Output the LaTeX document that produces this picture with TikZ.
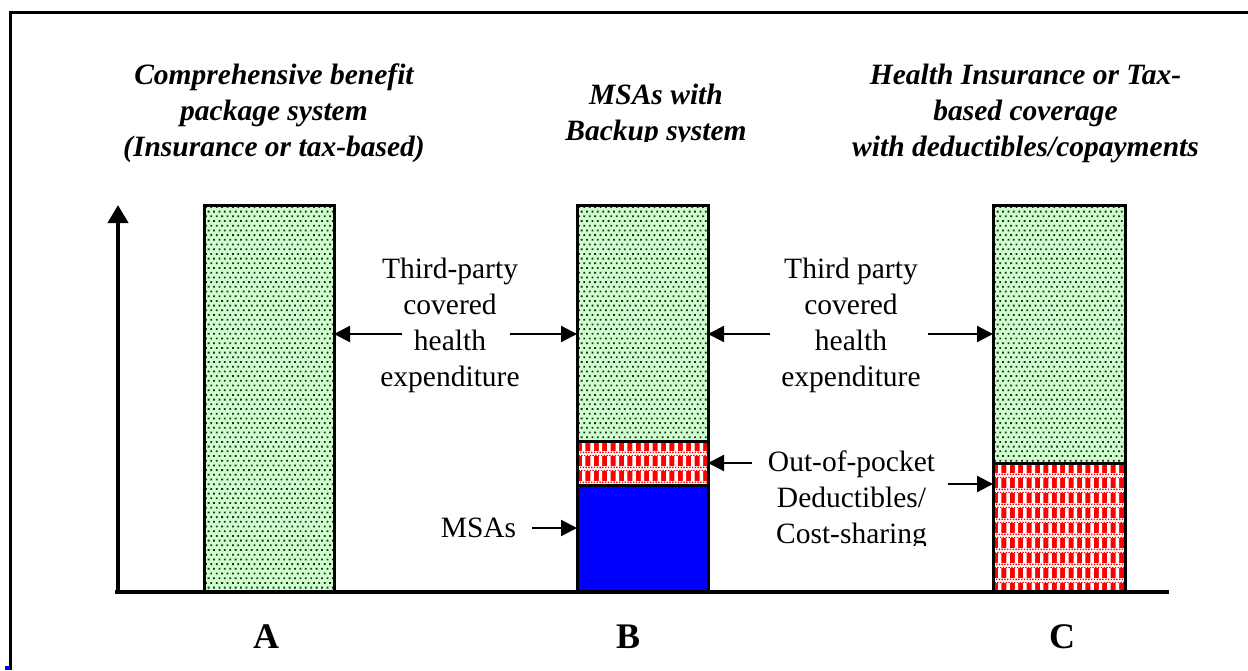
\documentclass[tikz,border=0pt]{standalone}
\usepackage{fontspec}
\setmainfont{Liberation Serif}
\usetikzlibrary{arrows.meta}
\definecolor{lightgreen}{HTML}{CCFFCC}
\definecolor{chkred}{HTML}{FF0000}
\definecolor{msablue}{HTML}{0000FF}

% dotted light-green texture inside rectangle (x1,y1)-(x2,y2)
\newcommand\greentex[4]{%
  \begin{scope}
    \clip (#1,#2) rectangle (#3,#4);
    \fill[lightgreen] (#1,#2) rectangle (#3,#4);
    \foreach \r in {0,...,83}{%
      \pgfmathsetmacro\yy{#2+1+\r*4.7}%
      \pgfmathsetmacro\xo{#1+1+mod(\r,2)*2.7}%
      \fill[black!85] \foreach \c in {0,...,25}{ (\xo+\c*5.4,\yy) rectangle ++(1.8,1.8) };
    }
  \end{scope}}

% red/white gingham texture inside rectangle (x1,y1)-(x2,y2)
\newcommand\redtex[4]{%
  \begin{scope}
    \clip (#1,#2) rectangle (#3,#4);
    \fill[chkred] (#1,#2) rectangle (#3,#4);
    \foreach \r in {0,...,9}{%
      \pgfmathsetmacro\yy{#2+\r*15}%
      \fill[white] \foreach \c in {0,...,16}{ (#1+5+\c*8.4,\yy) rectangle ++(3.4,10) };
      \fill[white] (#1,\yy+10) rectangle (#3,\yy+15);
      \foreach \j in {0,2}{%
        \pgfmathsetmacro\yj{\yy+10.6+\j*1.6}%
        \pgfmathsetmacro\xj{#1+\j*0.7}%
        \fill[chkred] \foreach \k in {0,...,47}{ (\xj+\k*2.8,\yj) rectangle ++(1.4,1.4) };
      }
    }
  \end{scope}}

\begin{document}
\begin{tikzpicture}[x=1pt,y=-1pt,
  seg/.style={draw=black, line width=3pt, inner sep=0pt, outer sep=0pt},
  blueseg/.style={seg, fill=msablue},
  conn/.style={line width=2.2pt, -{Triangle[length=16pt,width=16pt]}},
  lbl/.style={font=\fontsize{29.5}{36}\selectfont, align=center, inner sep=0pt},
  ttl/.style={font=\fontsize{29.5}{36}\selectfont\bfseries\itshape, align=center, inner sep=0pt},
  letter/.style={font=\fontsize{36}{40}\selectfont\bfseries, inner sep=0pt}]
\useasboundingbox (0,0) rectangle (1248,670);
\fill[white] (0,0) rectangle (1248,670);

% frame
\draw[line width=3pt] (10.5,670) -- (10.5,12.5) -- (1248,12.5);
\fill[msablue] (5,666) rectangle (10,670);

% titles
\node[ttl] (tA) at (274,113) {Comprehensive benefit\\package system\\(Insurance or tax-based)};
\begin{scope}
  \clip (540,60) rectangle (780,141);
  \node[ttl] (tB) at (656,115.5) {MSAs with\\Backup system};
\end{scope}
\node[ttl] (tC) at (1025.5,113) {Health Insurance or Tax-\\based coverage\\with deductibles/copayments};

% bar textures
\greentex{204}{205}{334}{592}
\greentex{577}{205}{708}{441}
\redtex{577}{441}{708}{485}
\greentex{993}{205}{1125}{463}
\redtex{993}{463}{1125}{592}

% bars (outlines)
\node[seg, minimum width=130, minimum height=387] (barA) at (269,398.5) {};
\node[seg, minimum width=131, minimum height=236] (barBg) at (642.5,323) {};
\node[seg, minimum width=131, minimum height=44] (barBr) at (642.5,463) {};
\node[blueseg, minimum width=131, minimum height=107] (barBb) at (642.5,538.5) {};
\node[seg, minimum width=132, minimum height=258] (barCg) at (1059,334) {};
\node[seg, minimum width=132, minimum height=129] (barCr) at (1059,527.5) {};

% axes
\coordinate (orig) at (118,592);
\coordinate (ytop) at (118,205);
\coordinate (xend) at (1169,592);
\coordinate (xstart) at (115,592);
\draw[line width=4pt, -{Triangle[length=18pt,width=20pt]}] (orig) -- (ytop);
\draw[line width=4pt] (xstart) -- (xend);

% labels
\node[lbl] (l1) at (450,325) {Third-party\\covered\\health\\expenditure};
\node[lbl] (l2) at (851,325) {Third party\\covered\\health\\expenditure};
\begin{scope}
  \clip (740,440) rectangle (960,545);
  \node[lbl] (l3) at (851.5,500) {Out-of-pocket\\Deductibles/\\Cost-sharing};
\end{scope}
\node[lbl] (l4) at (478.5,528) {MSAs};

% connector tails
\coordinate (a1) at (402,334);
\coordinate (a2) at (510,334);
\coordinate (a3) at (770,334);
\coordinate (a4) at (928,334);
\coordinate (a5) at (752,463);
\coordinate (a6) at (948,484);
\coordinate (a7) at (532,528);

\draw[conn] (a1) -- (a1 -| barA.east);
\draw[conn] (a2) -- (a2 -| barBg.west);
\draw[conn] (a3) -- (a3 -| barBg.east);
\draw[conn] (a4) -- (a4 -| barCg.west);
\draw[conn] (a5) -- (a5 -| barBr.east);
\draw[conn] (a6) -- (a6 -| barCr.west);
\draw[conn] (a7) -- (a7 -| barBb.west);

% category letters
\node[letter] (A) at (266,637) {A};
\node[letter] (B) at (628,637) {B};
\node[letter] (C) at (1062,637) {C};
\end{tikzpicture}
\end{document}
